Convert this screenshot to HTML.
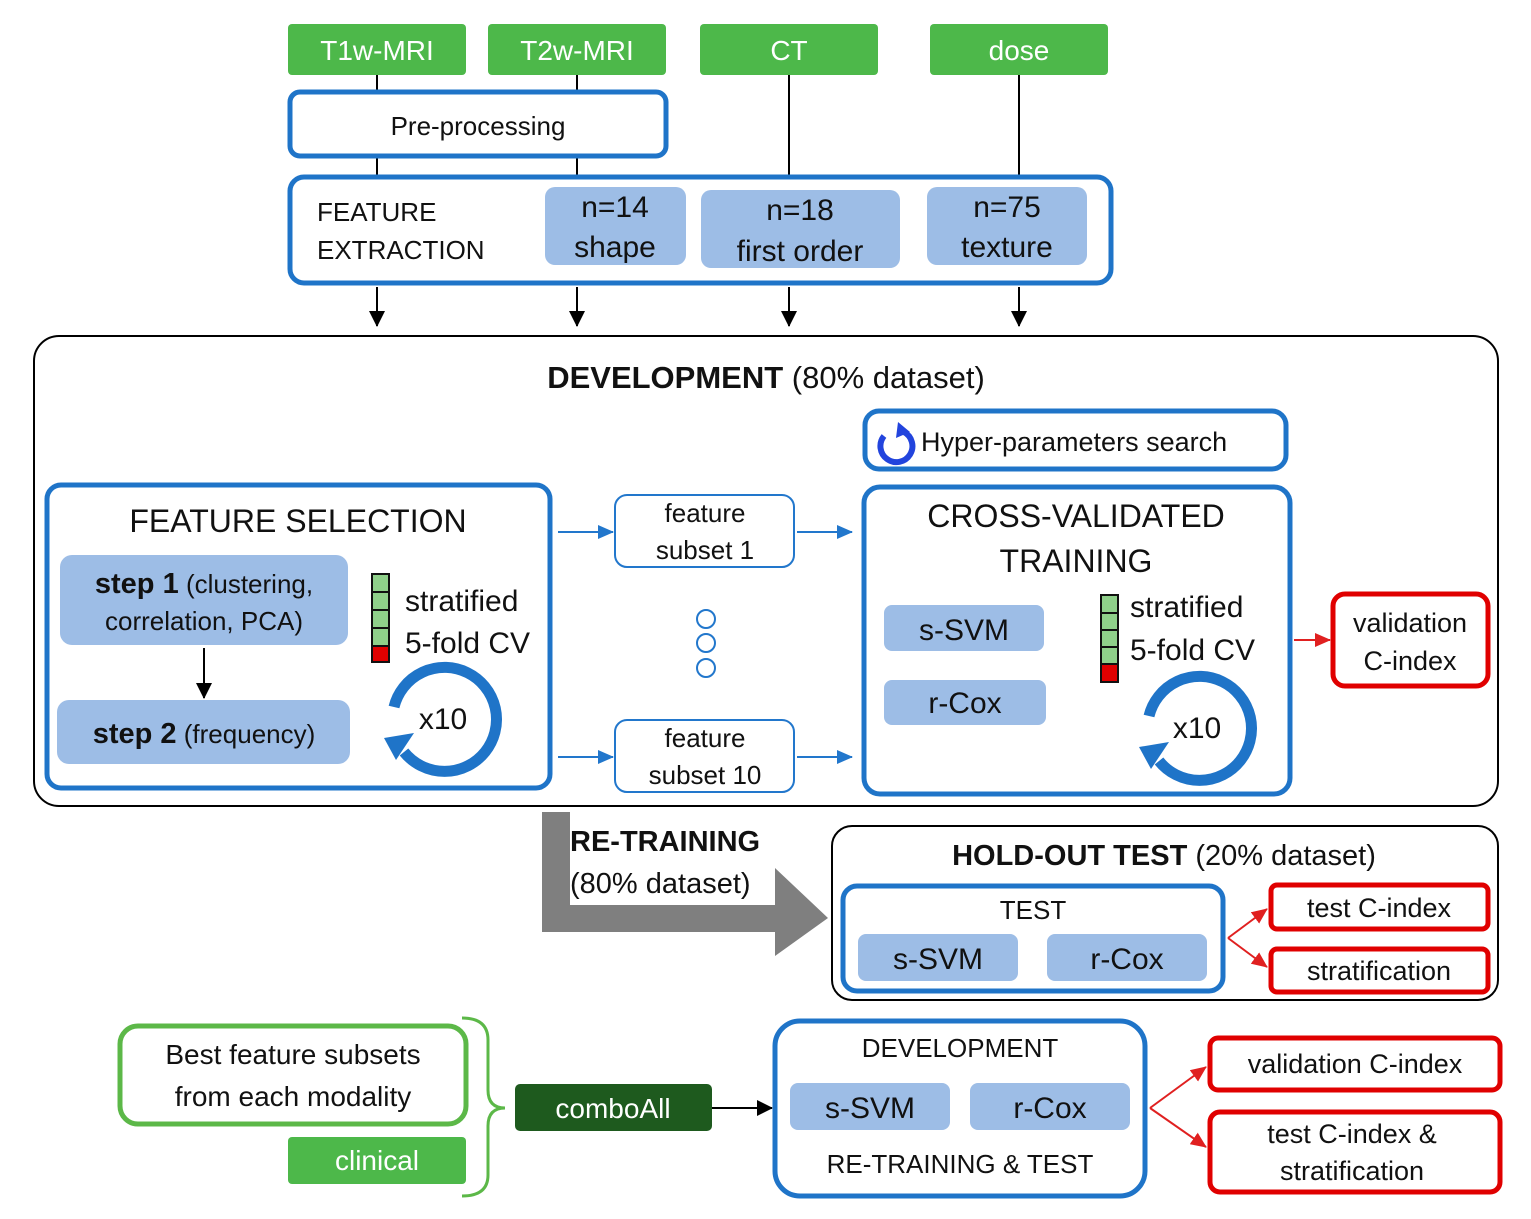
<!DOCTYPE html>
<html><head><meta charset="utf-8"><style>
html,body{margin:0;padding:0;background:#fff}
svg{display:block}
text{font-family:"Liberation Sans",sans-serif;fill:#111}
</style></head><body>
<svg width="1531" height="1219" viewBox="0 0 1531 1219" xmlns="http://www.w3.org/2000/svg">
<defs>
<marker id="ab" markerWidth="10" markerHeight="10" refX="9" refY="5" orient="auto" markerUnits="userSpaceOnUse"><path d="M0,0 L10,5 L0,10 z" fill="#000"/></marker>
<marker id="ablk" markerWidth="16" markerHeight="16" refX="15" refY="8" orient="auto" markerUnits="userSpaceOnUse"><path d="M0,0 L16,8 L0,16 z" fill="#000"/></marker>
<marker id="abl" markerWidth="16" markerHeight="14" refX="15" refY="7" orient="auto" markerUnits="userSpaceOnUse"><path d="M0,0 L16,7 L0,14 z" fill="#2277cc"/></marker>
<marker id="ar" markerWidth="16" markerHeight="14" refX="15" refY="7" orient="auto" markerUnits="userSpaceOnUse"><path d="M0,0 L16,7 L0,14 z" fill="#e02020"/></marker>
</defs>

<!-- top green boxes -->
<g font-size="28" text-anchor="middle">
<rect x="288" y="24" width="178" height="51" rx="4" fill="#4db84a"/><text x="377" y="60" style="fill:#fff">T1w-MRI</text>
<rect x="488" y="24" width="178" height="51" rx="4" fill="#4db84a"/><text x="577" y="60" style="fill:#fff">T2w-MRI</text>
<rect x="700" y="24" width="178" height="51" rx="4" fill="#4db84a"/><text x="789" y="60" style="fill:#fff">CT</text>
<rect x="930" y="24" width="178" height="51" rx="4" fill="#4db84a"/><text x="1019" y="60" style="fill:#fff">dose</text>
</g>
<g stroke="#000" stroke-width="2">
<line x1="377" y1="75" x2="377" y2="90"/><line x1="377" y1="158" x2="377" y2="175"/>
<line x1="577" y1="75" x2="577" y2="90"/><line x1="577" y1="158" x2="577" y2="175"/>
<line x1="789" y1="75" x2="789" y2="175"/><line x1="1019" y1="75" x2="1019" y2="175"/>
<line x1="377" y1="287" x2="377" y2="326" marker-end="url(#ablk)"/>
<line x1="577" y1="287" x2="577" y2="326" marker-end="url(#ablk)"/>
<line x1="789" y1="287" x2="789" y2="326" marker-end="url(#ablk)"/>
<line x1="1019" y1="287" x2="1019" y2="326" marker-end="url(#ablk)"/>
</g>
<rect x="290" y="92" width="376" height="64" rx="10" fill="#fff" stroke="#1f74c8" stroke-width="5"/>
<text x="478" y="135" font-size="26" text-anchor="middle">Pre-processing</text>

<rect x="290" y="177" width="821" height="106" rx="14" fill="#fff" stroke="#1f74c8" stroke-width="5"/>
<text x="317" y="221" font-size="26">FEATURE</text><text x="317" y="259" font-size="26">EXTRACTION</text>
<g font-size="30" text-anchor="middle">
<rect x="545" y="187" width="141" height="78" rx="10" fill="#9dbde6"/><text x="615" y="217">n=14</text><text x="615" y="257">shape</text>
<rect x="701" y="190" width="199" height="78" rx="10" fill="#9dbde6"/><text x="800" y="220">n=18</text><text x="800" y="261">first order</text>
<rect x="927" y="187" width="160" height="78" rx="10" fill="#9dbde6"/><text x="1007" y="217">n=75</text><text x="1007" y="257">texture</text>
</g>

<!-- development -->
<rect x="34" y="336" width="1464" height="470" rx="25" fill="none" stroke="#000" stroke-width="2"/>
<text x="766" y="388" font-size="31" text-anchor="middle"><tspan font-weight="bold">DEVELOPMENT</tspan> (80% dataset)</text>

<rect x="865" y="411" width="421" height="58" rx="14" fill="#fff" stroke="#1f74c8" stroke-width="5"/>
<path d="M904,432 A16,16 0 1 1 884,436" fill="none" stroke="#2244dd" stroke-width="6"/>
<path d="M898,422 L910,432 L896,438 z" fill="#2244dd"/>
<text x="921" y="451" font-size="27">Hyper-parameters search</text>

<!-- feature selection -->
<rect x="47" y="485" width="503" height="303" rx="14" fill="#fff" stroke="#1f74c8" stroke-width="5"/>
<text x="298" y="532" font-size="32" text-anchor="middle">FEATURE SELECTION</text>
<rect x="60" y="555" width="288" height="90" rx="12" fill="#9dbde6"/>
<text x="204" y="593" font-size="26" text-anchor="middle"><tspan font-weight="bold" font-size="29">step 1</tspan> (clustering,</text>
<text x="204" y="630" font-size="26" text-anchor="middle">correlation, PCA)</text>
<line x1="204" y1="648" x2="204" y2="698" stroke="#000" stroke-width="2" marker-end="url(#ablk)"/>
<rect x="57" y="700" width="293" height="64" rx="12" fill="#9dbde6"/>
<text x="204" y="743" font-size="26" text-anchor="middle"><tspan font-weight="bold" font-size="29">step 2</tspan> (frequency)</text>
<g stroke="#111" stroke-width="2">
<rect x="372" y="574" width="17" height="18" fill="#8fd08a"/><rect x="372" y="592" width="17" height="18" fill="#8fd08a"/><rect x="372" y="610" width="17" height="18" fill="#8fd08a"/><rect x="372" y="628" width="17" height="18" fill="#8fd08a"/><rect x="372" y="646" width="17" height="16" fill="#e00000"/>
</g>
<text x="405" y="611" font-size="30">stratified</text><text x="405" y="653" font-size="30">5-fold CV</text>
<path d="M394,707 A52,52 0 1 1 404,752" fill="none" stroke="#1f74c8" stroke-width="11"/>
<path d="M384,738 L414,733 L396,760 z" fill="#1f74c8"/>
<text x="443" y="729" font-size="30" text-anchor="middle">x10</text>

<!-- subsets -->
<rect x="615" y="495" width="179" height="72" rx="12" fill="#fff" stroke="#2277cc" stroke-width="2"/>
<text x="705" y="522" font-size="26" text-anchor="middle">feature</text><text x="705" y="559" font-size="26" text-anchor="middle">subset 1</text>
<rect x="615" y="720" width="179" height="72" rx="12" fill="#fff" stroke="#2277cc" stroke-width="2"/>
<text x="705" y="747" font-size="26" text-anchor="middle">feature</text><text x="705" y="784" font-size="26" text-anchor="middle">subset 10</text>
<g fill="none" stroke="#2277cc" stroke-width="2"><circle cx="706" cy="619" r="9"/><circle cx="706" cy="643" r="9"/><circle cx="706" cy="668" r="9"/></g>
<g stroke="#2277cc" stroke-width="2">
<line x1="558" y1="532" x2="613" y2="532" marker-end="url(#abl)"/><line x1="797" y1="532" x2="852" y2="532" marker-end="url(#abl)"/>
<line x1="558" y1="757" x2="613" y2="757" marker-end="url(#abl)"/><line x1="797" y1="757" x2="852" y2="757" marker-end="url(#abl)"/>
</g>

<!-- CV training -->
<rect x="864" y="487" width="426" height="307" rx="16" fill="#fff" stroke="#1f74c8" stroke-width="5"/>
<text x="1076" y="527" font-size="32" text-anchor="middle">CROSS-VALIDATED</text>
<text x="1076" y="572" font-size="32" text-anchor="middle">TRAINING</text>
<rect x="884" y="605" width="160" height="46" rx="8" fill="#9dbde6"/><text x="964" y="640" font-size="30" text-anchor="middle">s-SVM</text>
<rect x="884" y="680" width="162" height="45" rx="8" fill="#9dbde6"/><text x="965" y="713" font-size="30" text-anchor="middle">r-Cox</text>
<g stroke="#111" stroke-width="2">
<rect x="1101" y="595" width="17" height="18" fill="#8fd08a"/><rect x="1101" y="613" width="17" height="17" fill="#8fd08a"/><rect x="1101" y="630" width="17" height="17" fill="#8fd08a"/><rect x="1101" y="647" width="17" height="17" fill="#8fd08a"/><rect x="1101" y="664" width="17" height="18" fill="#e00000"/>
</g>
<text x="1130" y="617" font-size="30">stratified</text><text x="1130" y="660" font-size="30">5-fold CV</text>
<path d="M1149,716 A52,52 0 1 1 1159,761" fill="none" stroke="#1f74c8" stroke-width="11"/>
<path d="M1139,747 L1169,742 L1151,769 z" fill="#1f74c8"/>
<text x="1197" y="738" font-size="30" text-anchor="middle">x10</text>

<line x1="1294" y1="640" x2="1330" y2="640" stroke="#e02020" stroke-width="2" marker-end="url(#ar)"/>
<rect x="1333" y="594" width="155" height="92" rx="12" fill="#fff" stroke="#e00000" stroke-width="5"/>
<text x="1410" y="632" font-size="27" text-anchor="middle">validation</text><text x="1410" y="670" font-size="27" text-anchor="middle">C-index</text>

<!-- retraining arrow -->
<polygon points="542,812 570,812 570,905 775,905 775,868 828,918 775,956 775,932 542,932" fill="#7f7f7f"/>
<text x="570" y="851" font-size="29" font-weight="bold">RE-TRAINING</text>
<text x="570" y="893" font-size="29">(80% dataset)</text>

<!-- hold-out -->
<rect x="832" y="826" width="666" height="174" rx="20" fill="none" stroke="#000" stroke-width="2"/>
<text x="1164" y="865" font-size="29" text-anchor="middle"><tspan font-weight="bold">HOLD-OUT TEST</tspan> (20% dataset)</text>
<rect x="843" y="886" width="380" height="105" rx="14" fill="#fff" stroke="#1f74c8" stroke-width="5"/>
<text x="1033" y="919" font-size="26" text-anchor="middle">TEST</text>
<rect x="858" y="934" width="160" height="47" rx="8" fill="#9dbde6"/><text x="938" y="969" font-size="30" text-anchor="middle">s-SVM</text>
<rect x="1047" y="934" width="160" height="47" rx="8" fill="#9dbde6"/><text x="1127" y="969" font-size="30" text-anchor="middle">r-Cox</text>
<g stroke="#e02020" stroke-width="2">
<line x1="1228" y1="938" x2="1267" y2="909" marker-end="url(#ar)"/><line x1="1228" y1="938" x2="1267" y2="967" marker-end="url(#ar)"/>
</g>
<rect x="1271" y="885" width="217" height="44" rx="6" fill="#fff" stroke="#e00000" stroke-width="5"/><text x="1379" y="917" font-size="27" text-anchor="middle">test C-index</text>
<rect x="1271" y="949" width="217" height="43" rx="6" fill="#fff" stroke="#e00000" stroke-width="5"/><text x="1379" y="980" font-size="27" text-anchor="middle">stratification</text>

<!-- bottom -->
<rect x="120" y="1026" width="346" height="98" rx="18" fill="#fff" stroke="#5cb848" stroke-width="5"/>
<text x="293" y="1064" font-size="28" text-anchor="middle">Best feature subsets</text>
<text x="293" y="1106" font-size="28" text-anchor="middle">from each modality</text>
<rect x="288" y="1137" width="178" height="47" rx="4" fill="#4db84a"/><text x="377" y="1170" font-size="28" text-anchor="middle" style="fill:#fff">clinical</text>
<path d="M462,1018 Q488,1018 488,1040 L488,1090 Q488,1108 505,1108 Q488,1108 488,1126 L488,1175 Q488,1196 462,1196" fill="none" stroke="#5cb848" stroke-width="3"/>
<rect x="515" y="1084" width="197" height="47" rx="5" fill="#1e5a1e"/><text x="613" y="1118" font-size="28" text-anchor="middle" style="fill:#fff">comboAll</text>
<line x1="712" y1="1108" x2="772" y2="1108" stroke="#000" stroke-width="2" marker-end="url(#ablk)"/>
<rect x="775" y="1021" width="370" height="175" rx="25" fill="#fff" stroke="#1f74c8" stroke-width="5"/>
<text x="960" y="1057" font-size="26" text-anchor="middle">DEVELOPMENT</text>
<rect x="790" y="1083" width="160" height="47" rx="8" fill="#9dbde6"/><text x="870" y="1118" font-size="30" text-anchor="middle">s-SVM</text>
<rect x="970" y="1083" width="160" height="47" rx="8" fill="#9dbde6"/><text x="1050" y="1118" font-size="30" text-anchor="middle">r-Cox</text>
<text x="960" y="1173" font-size="26" text-anchor="middle">RE-TRAINING &amp; TEST</text>
<g stroke="#e02020" stroke-width="2">
<line x1="1150" y1="1108" x2="1206" y2="1067" marker-end="url(#ar)"/><line x1="1150" y1="1108" x2="1206" y2="1147" marker-end="url(#ar)"/>
</g>
<rect x="1210" y="1038" width="290" height="52" rx="8" fill="#fff" stroke="#e00000" stroke-width="5"/><text x="1355" y="1073" font-size="27" text-anchor="middle">validation C-index</text>
<rect x="1210" y="1112" width="290" height="80" rx="10" fill="#fff" stroke="#e00000" stroke-width="5"/>
<text x="1352" y="1143" font-size="27" text-anchor="middle">test C-index &amp;</text><text x="1352" y="1180" font-size="27" text-anchor="middle">stratification</text>
</svg>
</body></html>
